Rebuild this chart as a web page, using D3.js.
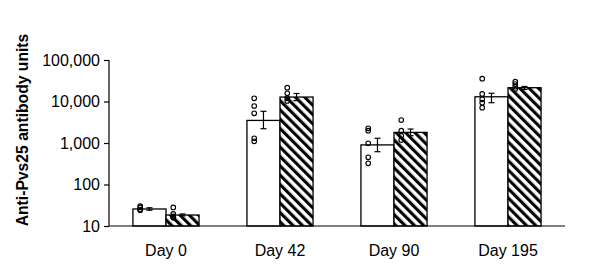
<!DOCTYPE html>
<html>
<head>
<meta charset="utf-8">
<script src="https://cdn.jsdelivr.net/npm/d3@7"></script>
<style>
  body { margin: 0; background: #fff; }
  text { font-family: "Liberation Sans", Arial, sans-serif; fill: #000; }
</style>
</head>
<body>
<div id="canvas"></div>
<script>
"use strict";

// categories and groups
let days = ["Day 0", "Day 42", "Day 90", "Day 195"];
let groups = ["open", "hatched"];
let yTicks = [10, 100, 1000, 10000, 100000];

// bar heights
let openMean = [25.7, 3500, 900, 13000];
let hatchMean = [18.4, 12800, 1800, 21500];

// error bar ends [low, high]
let openErr = [[24, 27.5], [2210, 5800], [617, 1300], [9350, 15800]];
let hatchErr = [[17.5, 19.5], [10500, 15600], [1500, 2170], [19500, 23000]];

// individual points
let openPoints = [
    [30, 28, 25, 24],
    [11900, 7800, 5200, 1300, 1100],
    [2260, 1980, 985, 452, 324],
    [35400, 15200, 11300, 9350, 7100]
];
let hatchPoints = [
    [28, 19.5, 17, 16, 16],
    [21500, 15800, 11900, 10300],
    [3580, 1980, 1500, 1180],
    [30000, 26400, 22700, 20000]
];

let svgWidth = 600;
let svgHeight = 270;
let margin = { top: 60, right: 35, bottom: 44, left: 109 };
let chartWidth = svgWidth - margin.left - margin.right;
let chartHeight = svgHeight - margin.top - margin.bottom;

let svg = d3.select("#canvas")
    .append("svg")
    .attr("width", svgWidth)
    .attr("height", svgHeight);

// diagonal hatch pattern
let defs = svg.append("defs");
let pattern = defs.append("pattern")
    .attr("id", "hatch")
    .attr("patternUnits", "userSpaceOnUse")
    .attr("width", 6.6)
    .attr("height", 6.6)
    .attr("patternTransform", "rotate(-45)");
pattern.append("rect")
    .attr("width", 6.6)
    .attr("height", 6.6)
    .attr("fill", "white");
pattern.append("line")
    .attr("x1", 1.6).attr("y1", 0)
    .attr("x2", 1.6).attr("y2", 6.6)
    .attr("stroke", "black")
    .attr("stroke-width", 3.1);

let xScale = d3.scaleBand()
    .domain(days)
    .range([margin.left, margin.left + chartWidth])
    .paddingInner(0.42)
    .paddingOuter(0.21);

let subScale = d3.scaleBand()
    .domain(groups)
    .range([0, xScale.bandwidth()]);

let yScale = d3.scaleLog()
    .domain([10, 100000])
    .range([margin.top + chartHeight, margin.top]);

// rows for each bar
let rows = [];
for (let i = 0; i < days.length; i++) {
    rows.push({ day: days[i], group: "open", mean: openMean[i], err: openErr[i], pts: openPoints[i] });
    rows.push({ day: days[i], group: "hatched", mean: hatchMean[i], err: hatchErr[i], pts: hatchPoints[i] });
}

function barX(d) { return xScale(d.day) + subScale(d.group); }
function barCenter(d) { return barX(d) + subScale.bandwidth() / 2; }

// bars
svg.selectAll("rect.bar")
    .data(rows)
    .join("rect")
    .attr("class", "bar")
    .attr("x", barX)
    .attr("y", function(d) { return yScale(d.mean); })
    .attr("width", subScale.bandwidth())
    .attr("height", function(d) { return yScale(10) - yScale(d.mean); })
    .attr("fill", function(d) { return d.group === "open" ? "white" : "url(#hatch)"; })
    .attr("stroke", "black")
    .attr("stroke-width", 1.3);

// error bars
let capHalf = 3;
let errG = svg.selectAll("g.err")
    .data(rows)
    .join("g")
    .attr("class", "err")
    .attr("stroke", "black")
    .attr("stroke-width", 1.2);
errG.append("line")
    .attr("x1", barCenter).attr("x2", barCenter)
    .attr("y1", function(d) { return yScale(d.err[0]); })
    .attr("y2", function(d) { return yScale(d.err[1]); });
errG.append("line")
    .attr("x1", function(d) { return barCenter(d) - capHalf; })
    .attr("x2", function(d) { return barCenter(d) + capHalf; })
    .attr("y1", function(d) { return yScale(d.err[0]); })
    .attr("y2", function(d) { return yScale(d.err[0]); });
errG.append("line")
    .attr("x1", function(d) { return barCenter(d) - capHalf; })
    .attr("x2", function(d) { return barCenter(d) + capHalf; })
    .attr("y1", function(d) { return yScale(d.err[1]); })
    .attr("y2", function(d) { return yScale(d.err[1]); });

// individual points
let pointData = [];
rows.forEach(function(d) {
    d.pts.forEach(function(v) {
        pointData.push({ x: barCenter(d) - subScale.bandwidth() * 0.28, v: v });
    });
});
svg.selectAll("circle.pt")
    .data(pointData)
    .join("circle")
    .attr("class", "pt")
    .attr("cx", function(d) { return d.x; })
    .attr("cy", function(d) { return yScale(d.v); })
    .attr("r", 2.3)
    .attr("fill", "none")
    .attr("stroke", "black")
    .attr("stroke-width", 1.1);

// y axis
let yAxis = d3.axisLeft(yScale)
    .tickValues(yTicks)
    .tickFormat(d3.format(","))
    .tickSize(5)
    .tickPadding(4);
let yG = svg.append("g")
    .attr("transform", "translate(" + margin.left + ",0)")
    .call(yAxis);
yG.selectAll("text")
    .style("font-size", "16px")
    .style("font-family", "Liberation Sans, Arial, sans-serif");
yG.selectAll("path, line").attr("stroke", "black").attr("stroke-width", 1.2);
yG.select(".domain").attr("d", "M0," + yScale(100000) + "V" + yScale(10));

// x axis
let xAxis = d3.axisBottom(xScale).tickSize(0).tickPadding(19);
let xG = svg.append("g")
    .attr("transform", "translate(0," + (margin.top + chartHeight) + ")")
    .call(xAxis);
xG.selectAll("text")
    .style("font-size", "16px")
    .style("font-family", "Liberation Sans, Arial, sans-serif");
xG.select(".domain")
    .attr("stroke", "black")
    .attr("stroke-width", 1.2)
    .attr("d", "M" + margin.left + ",0H" + (margin.left + chartWidth));

// y axis title
svg.append("text")
    .attr("transform", "translate(28," + 130 + ") rotate(-90)")
    .attr("text-anchor", "middle")
    .style("font-size", "15.7px")
    .style("font-weight", "bold")
    .text("Anti-Pvs25 antibody units");
</script>
</body>
</html>
